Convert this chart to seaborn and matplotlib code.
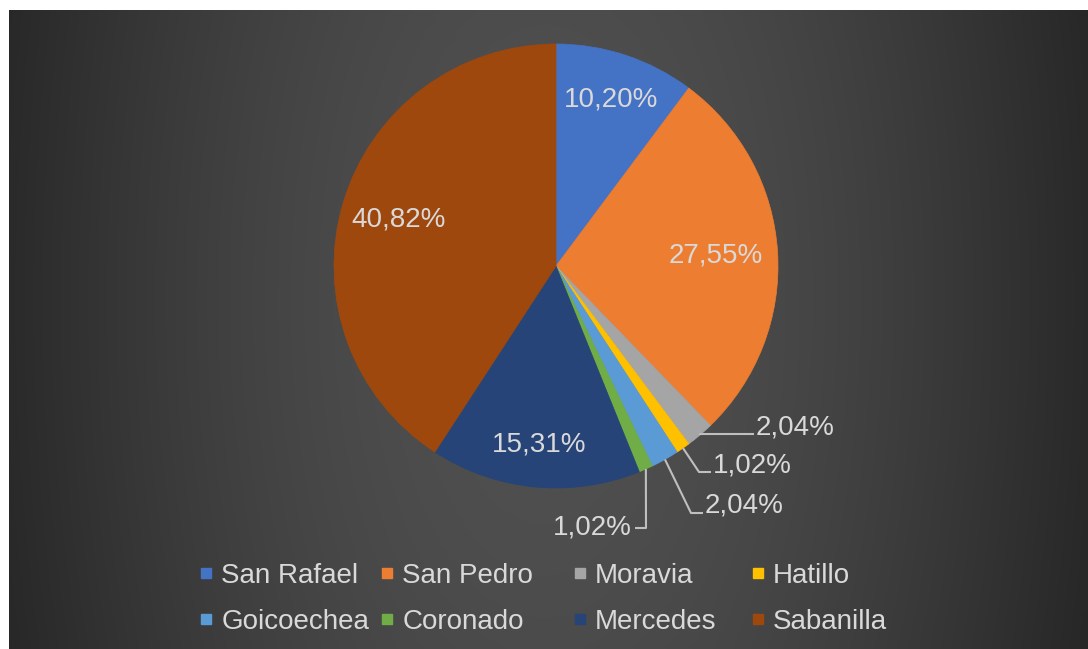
import numpy as np
import matplotlib
matplotlib.use("Agg")
import matplotlib.pyplot as plt
from matplotlib.lines import Line2D
import seaborn as sns

# data
distritos = ["San Rafael", "San Pedro", "Moravia", "Hatillo",
             "Goicoechea", "Coronado", "Mercedes", "Sabanilla"]
casos = [10, 27, 2, 1, 2, 1, 15, 40]
colores = ["#4472C4", "#ED7D31", "#A5A5A5", "#FFC000",
           "#5B9BD5", "#70AD47", "#264478", "#9E480E"]

sns.set_theme(style="dark")
plt.rcParams['font.family'] = ['Liberation Sans', 'DejaVu Sans']

W, H = 1088, 649
CX, CY, R = 556, 266, 222   # pie centre / radius in pixels
TXT = "#d9d9d9"
LINE = "#bfbfbf"
FS = 20


def px(x, y):
    # pixel position -> data units of the pie axes
    return (x - CX) / R, (CY - y) / R


def fmt(p):
    return f"{p:.2f}".replace(".", ",") + "%"


fig = plt.figure(figsize=(W / 100, H / 100), dpi=100, facecolor="white")
ax = fig.add_axes([0, 0, 1, 1])

# background panel with soft horizontal gradient
xs = np.linspace(9, W, 400)
d = np.clip(np.abs(xs - 545) / 540, 0, 1)
v = (42 + 38 * np.cos(np.pi / 2 * d)) / 255
ys = np.linspace(10, H, 200)
vy = 1 - 0.06 * ((ys - 300) / 350) ** 2
img = np.clip(vy[:, None] * v[None, :], 0, 1)
rgb = np.dstack([img, img, img])
x0, y1 = px(9, 10)
x1, y0 = px(W, H)
ax.imshow(rgb, extent=[x0, x1, y0, y1], origin="upper", aspect="auto", zorder=0)

total = sum(casos)
pcts = [c / total * 100 for c in casos]

wedges, _ = ax.pie(
    casos, colors=colores, startangle=90, counterclock=False, radius=1,
    wedgeprops=dict(linewidth=0.5), frame=True)
for w in wedges:
    w.set_zorder(2)
    w.set_edgecolor(w.get_facecolor())
ax.set_xlim(-CX / R, (W - CX) / R)
ax.set_ylim(-(H - CY) / R, CY / R)
ax.set_aspect("equal")
ax.axis("off")

# labels inside the large slices (radius as fraction of pie radius)
inner_r = {0: 0.79, 1: 0.72, 6: 0.81, 7: 0.74}
for i, rr in inner_r.items():
    w = wedges[i]
    mid = np.deg2rad((w.theta1 + w.theta2) / 2)
    ax.text(rr * np.cos(mid), rr * np.sin(mid), fmt(pcts[i]), color=TXT,
            fontsize=FS, ha="center", va="center", zorder=3)

# callouts for small slices: (elbow point px, end point px, text anchor px, ha)
callouts = {
    2: ((700, 434), (754, 434), (756, 428), "left"),
    3: ((699, 472), (711, 472), (713, 465), "left"),
    4: ((691, 513), (703, 513), (705, 505), "left"),
    5: ((646, 528), (635, 528), (632, 527), "right"),
}
for i, (elbow, end, pos, ha) in callouts.items():
    w = wedges[i]
    mid = np.deg2rad((w.theta1 + w.theta2) / 2)
    sx, sy = np.cos(mid), np.sin(mid)
    ex, ey = px(*elbow)
    fx, fy = px(*end)
    ax.plot([sx, ex, fx], [sy, ey, fy], color=LINE, lw=1.5, zorder=4,
            solid_capstyle="butt")
    tx, ty = px(*pos)
    ax.text(tx, ty, fmt(pcts[i]), color=TXT, fontsize=FS, ha=ha,
            va="center", zorder=4)

# legend, one column at a time (Excel spacing)
col_x = [199, 380, 573, 751]
for j in range(4):
    handles = []
    for k in (j, j + 4):
        handles.append(Line2D([], [], marker="s", linestyle="", markersize=7,
                              markerfacecolor=colores[k],
                              markeredgecolor=colores[k], label=distritos[k]))
    leg = fig.legend(handles=handles, loc="upper left",
                     bbox_to_anchor=(col_x[j] / W, 1 - 563 / H),
                     frameon=False, fontsize=FS, handlelength=0.5,
                     handletextpad=0.3, labelspacing=0.72, borderpad=0,
                     borderaxespad=0)
    for t in leg.get_texts():
        t.set_color(TXT)

fig.savefig("out.png", dpi=100, facecolor="white")
